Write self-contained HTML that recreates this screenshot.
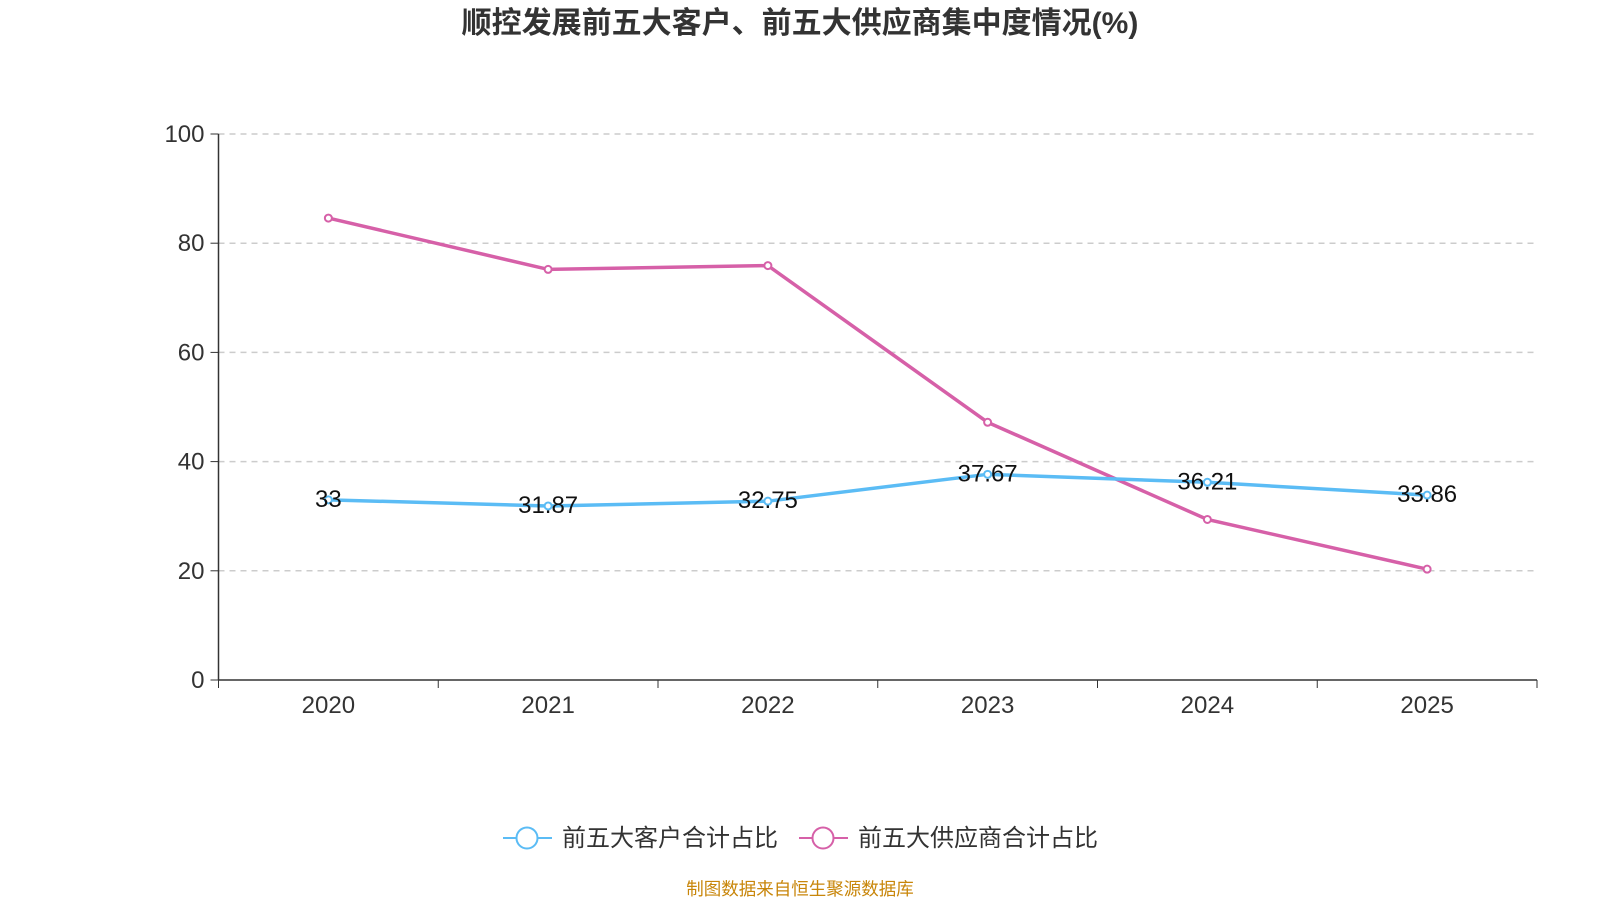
<!DOCTYPE html>
<html><head><meta charset="utf-8"><style>
body{margin:0;background:#fff;width:1600px;height:900px;overflow:hidden;font-family:"Liberation Sans","Noto Sans CJK SC",sans-serif}
</style></head><body>
<svg width="1600" height="900" id="c" style="font-family:'Liberation Sans','Noto Sans CJK SC',sans-serif">
<text x="800" y="33" text-anchor="middle" font-size="30" font-weight="bold" fill="#333">顺控发展前五大客户、前五大供应商集中度情况(%)</text>
<g id="grid"></g><g id="axes"></g><g id="series"></g>
<g>
<g><line x1="503" y1="838" x2="552" y2="838" stroke="#5bbcf5" stroke-width="2"/><circle cx="527" cy="838" r="10.5" fill="#fff" stroke="#5bbcf5" stroke-width="2"/><text x="562" y="846" font-size="24" fill="#333">前五大客户合计占比</text></g>
<g><line x1="799" y1="838" x2="848" y2="838" stroke="#d660a8" stroke-width="2"/><circle cx="823" cy="838" r="10.5" fill="#fff" stroke="#d660a8" stroke-width="2"/><text x="858" y="846" font-size="24" fill="#333">前五大供应商合计占比</text></g>
</g>
<text x="800" y="895" text-anchor="middle" font-size="17.5" fill="#c8860a">制图数据来自恒生聚源数据库</text>
</svg>
<script>
const categories=["2020","2021","2022","2023","2024","2025"];
const customers=[33,31.87,32.75,37.67,36.21,33.86];
const suppliers=[84.6,75.2,75.9,47.2,29.4,20.3];
const yTicks=[0,20,40,60,80,100];
const NS="http://www.w3.org/2000/svg";
const x0=218.5,x1=1537,yb=680,yt=134;
const bw=(x1-x0)/categories.length;
const X=i=>x0+bw*(i+0.5), Y=v=>yb-(v/100)*(yb-yt);
function mk(p,t,a){const e=document.createElementNS(NS,t);for(const k in a)e.setAttribute(k,a[k]);p.appendChild(e);return e;}
const g=document.getElementById('grid'),ax=document.getElementById('axes'),s=document.getElementById('series');
yTicks.forEach(v=>{
 if(v>0){const l=mk(g,'line',{x1:x0,x2:x1,y1:Y(v),y2:Y(v),stroke:'#ccc','stroke-dasharray':'6,5','stroke-width':1.5});
 }
 mk(ax,'line',{x1:x0-8,x2:x0,y1:Y(v),y2:Y(v),stroke:'#333'});
 const t=mk(ax,'text',{x:x0-14,y:Y(v)+8,'text-anchor':'end','font-size':24,fill:'#333'});t.textContent=v;
 
});
mk(ax,'line',{x1:x0,x2:x0,y1:yt,y2:yb,stroke:'#333','stroke-width':1.5});
mk(ax,'line',{x1:x0,x2:x1,y1:yb,y2:yb,stroke:'#333','stroke-width':1.5});
for(let i=0;i<=categories.length;i++)mk(ax,'line',{x1:x0+bw*i,x2:x0+bw*i,y1:yb,y2:yb+8,stroke:'#333'});
categories.forEach((c,i)=>{const t=mk(ax,'text',{x:X(i),y:yb+33,'text-anchor':'middle','font-size':24,fill:'#333'});t.textContent=c;
 });
function series(d,col,name,labels){
 const p=mk(s,'polyline',{points:d.map((v,i)=>X(i)+','+Y(v)).join(' '),fill:'none',stroke:col,'stroke-width':3.5});
 
 d.forEach((v,i)=>{const c=mk(s,'circle',{cx:X(i),cy:Y(v),r:3.5,fill:'#fff',stroke:col,'stroke-width':2});
  
  if(labels){const t=mk(s,'text',{x:X(i),y:Y(v)+7,'text-anchor':'middle','font-size':24,fill:'#111'});t.textContent=v;
   }});
}
series(suppliers,'#d660a8','suppliers',false);
series(customers,'#5bbcf5','customers',true);
</script>
</body></html>
